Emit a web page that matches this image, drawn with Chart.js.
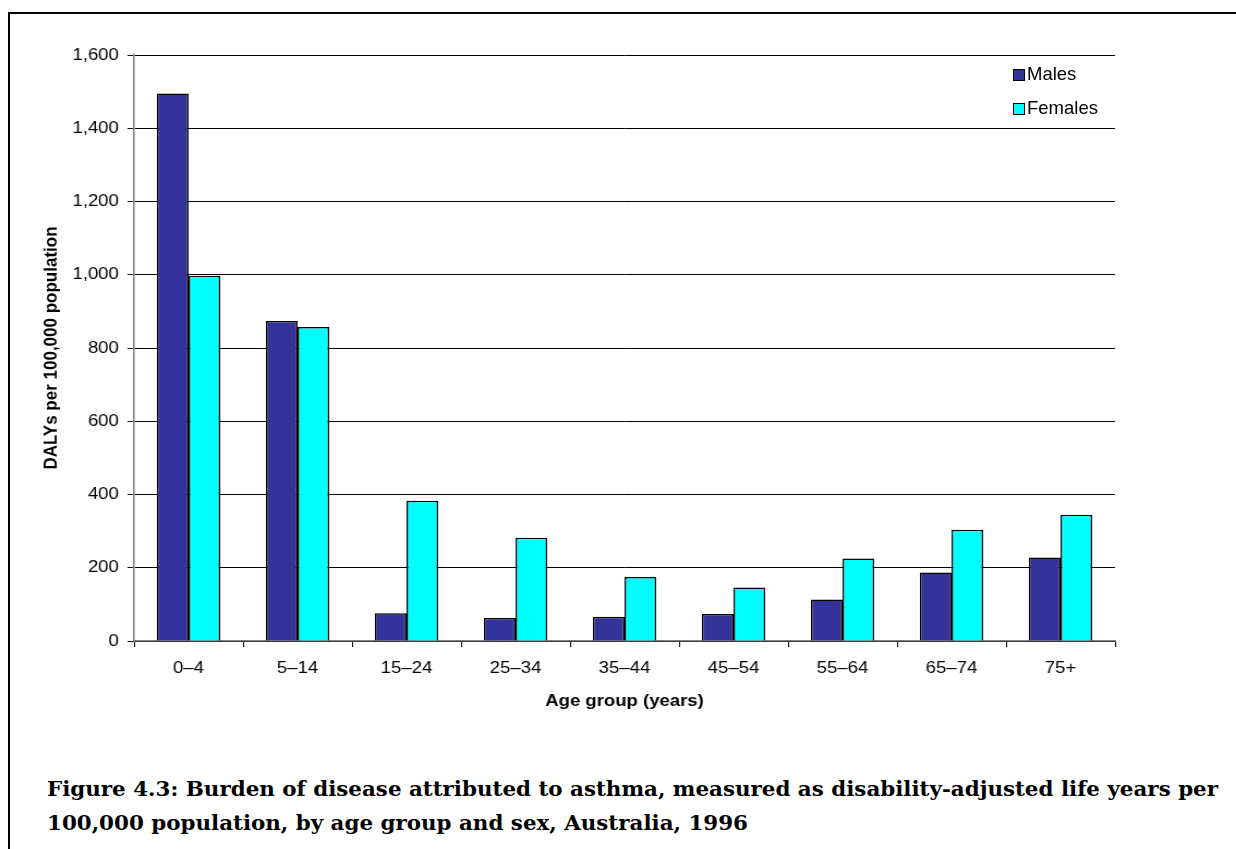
<!DOCTYPE html>
<html>
<head>
<meta charset="utf-8">
<script src="https://cdn.jsdelivr.net/npm/chart.js@4"></script>
<style>
    body { margin: 0; background: #fff; }
    .frame { position: absolute; left: 8px; top: 12px; width: 1240px; height: 850px; border: 2px solid #000; }
    .wrap { position: absolute; left: 0; top: 0; width: 1236px; height: 760px; }
    .legend { position: absolute; left: 1013px; top: 63px; font-family: "Liberation Sans", Arial, sans-serif; font-size: 18.5px; }
    .legend div { height: 34px; line-height: 22px; white-space: nowrap; }
    .legend span.box { display: inline-block; width: 10px; height: 10px; border: 1px solid #000; margin-right: 2px; vertical-align: -1px; }
    .caption { position: absolute; left: 47px; top: 772px; font-family: "DejaVu Serif", serif; font-weight: bold; font-size: 21px; line-height: 34px; color: #000; }
    .caption span { display: inline-block; white-space: nowrap; transform-origin: 0 50%; }
</style>
</head>
<body>
<div class="frame"></div>
<!-- canvas is drawn 1134 wide and shown 1236 wide: the original picture is stretched sideways -->
<div class="wrap"><canvas id="chart" width="1134" height="760" style="width:1236px;height:760px;display:block"></canvas></div>
<div class="legend">
    <div><span class="box" style="background:#333399"></span>Males</div>
    <div><span class="box" style="background:#00ffff"></span>Females</div>
</div>
<div class="caption">
    <span id="cap1">Figure 4.3: Burden of disease attributed to asthma, measured as disability-adjusted life years per</span><br>
    <span id="cap2">100,000 population, by age group and sex, Australia, 1996</span>
</div>
<script>
const ageGroups = ['0–4', '5–14', '15–24', '25–34', '35–44', '45–54', '55–64', '65–74', '75+'];
const males = [1495, 874, 76, 63, 66, 74, 113, 187, 228];
const females = [997, 857, 383, 282, 175, 146, 225, 304, 345];
const yTicks = [0, 200, 400, 600, 800, 1000, 1200, 1400, 1600];

document.addEventListener('DOMContentLoaded', function() {
    // fit the caption to the original line width
    const cap1 = document.getElementById('cap1');
    const cap2 = document.getElementById('cap2');
    const k = 1171 / cap1.getBoundingClientRect().width;
    cap1.style.transform = 'scaleX(' + k + ')';
    cap2.style.transform = 'scaleX(' + k + ')';

    const ctx = document.getElementById('chart').getContext('2d');
    const tickFont = { family: 'Liberation Sans', size: 17 };
    const titleFont = { family: 'Liberation Sans', size: 17, weight: 'bold' };

    new Chart(ctx, {
        type: 'bar',
        data: {
            labels: ageGroups,
            datasets: [{
                label: 'Males',
                data: males,
                backgroundColor: '#333399',
                borderColor: '#000',
                borderWidth: 1.5
            }, {
                label: 'Females',
                data: females,
                backgroundColor: '#00ffff',
                borderColor: '#000',
                borderWidth: 1.5
            }]
        },
        options: {
            responsive: false,
            animation: false,
            categoryPercentage: 0.58,
            barPercentage: 1,
            layout: {
                padding: { left: 33, top: 55, right: 111, bottom: 44 }
            },
            plugins: {
                legend: { display: false },
                tooltip: { enabled: false }
            },
            scales: {
                x: {
                    afterFit: function(scale) { scale.height = 75; },
                    grid: { offset: true, drawOnChartArea: false, color: '#000', tickLength: 6 },
                    border: { color: '#808080', width: 1.5 },
                    ticks: { font: tickFont, color: '#000', padding: 11 },
                    title: { display: true, text: 'Age group (years)', font: titleFont, color: '#000' }
                },
                y: {
                    min: 0,
                    max: 1600,
                    afterFit: function(scale) { scale.width = 90; },
                    afterBuildTicks: function(scale) {
                        scale.ticks = yTicks.map(v => ({ value: v }));
                    },
                    grid: { color: '#000', tickLength: 6 },
                    border: { color: '#808080', width: 1.5 },
                    ticks: {
                        font: tickFont,
                        color: '#000',
                        padding: 8,
                        callback: v => v.toLocaleString('en-US')
                    },
                    title: { display: true, text: 'DALYs per 100,000 population', font: titleFont, color: '#000' }
                }
            }
        }
    });
});
</script>
</body>
</html>
